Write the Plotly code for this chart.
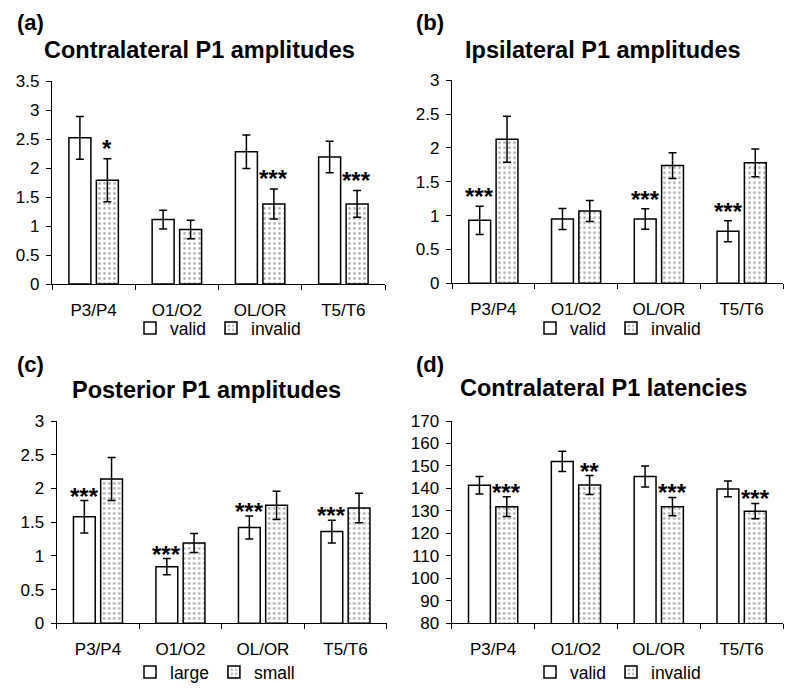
import plotly.graph_objects as go

# ---------------- data ----------------
categories = ["P3/P4", "O1/O2", "OL/OR", "T5/T6"]

a_valid = [2.52, 1.11, 2.28, 2.19]
a_valid_err = [0.37, 0.16, 0.29, 0.27]
a_invalid = [1.79, 0.94, 1.38, 1.38]
a_invalid_err = [0.37, 0.16, 0.26, 0.23]
a_sig = ["*", "", "***", "***"]          # marks on invalid bars

b_valid = [0.93, 0.95, 0.95, 0.77]
b_valid_err = [0.21, 0.155, 0.15, 0.155]
b_invalid = [2.13, 1.07, 1.74, 1.78]
b_invalid_err = [0.34, 0.155, 0.19, 0.205]
b_sig = ["***", "", "***", "***"]        # marks on valid bars

c_large = [1.58, 0.84, 1.42, 1.36]
c_large_err = [0.24, 0.12, 0.17, 0.17]
c_small = [2.14, 1.19, 1.75, 1.71]
c_small_err = [0.32, 0.14, 0.21, 0.22]
c_sig = ["***", "***", "***", "***"]     # marks on large bars

d_valid = [141.4, 152.0, 145.3, 139.8]
d_valid_err = [3.9, 4.5, 4.7, 3.5]
d_invalid = [131.9, 141.5, 131.9, 129.9]
d_invalid_err = [4.4, 4.2, 4.1, 3.4]
d_sig = ["***", "**", "***", "***"]      # marks on invalid bars

titles = ["Contralateral P1 amplitudes", "Ipsilateral P1 amplitudes",
          "Posterior P1 amplitudes", "Contralateral P1 latencies"]
panel_labels = ["(a)", "(b)", "(c)", "(d)"]
series_names = [("valid", "invalid"), ("valid", "invalid"),
                ("large", "small"), ("valid", "invalid")]

# ---------------- styling / layout ----------------
FONT = "Liberation Sans, Arial, Helvetica, sans-serif"
W, H = 800, 690

def px_x(p):
    return p / W

def px_y(p):
    return 1 - p / H

panels = [
    dict(first=a_valid, first_err=a_valid_err, second=a_invalid, second_err=a_invalid_err,
         sig=a_sig, sig_on=1, yrange=[0, 3.5], dtick=0.5,
         xdom=(52, 385), ydom=(284, 81), title_xy=(199, 50), label_xy=(30, 23),
         legend_xy=(130, 328), sig_shift=14),
    dict(first=b_valid, first_err=b_valid_err, second=b_invalid, second_err=b_invalid_err,
         sig=b_sig, sig_on=0, yrange=[0, 3], dtick=0.5,
         xdom=(452, 783), ydom=(283.3, 80.3), title_xy=(603, 50), label_xy=(430, 23),
         legend_xy=(530, 328), sig_shift=13),
    dict(first=c_large, first_err=c_large_err, second=c_small, second_err=c_small_err,
         sig=c_sig, sig_on=0, yrange=[0, 3], dtick=0.5,
         xdom=(56.7, 386.7), ydom=(623.3, 421), title_xy=(207, 390), label_xy=(30, 364),
         legend_xy=(130, 672), sig_shift=8),
    dict(first=d_valid, first_err=d_valid_err, second=d_invalid, second_err=d_invalid_err,
         sig=d_sig, sig_on=1, yrange=[80, 170], dtick=10,
         xdom=(451.7, 783), ydom=(623.3, 421), title_xy=(603, 388), label_xy=(430, 364),
         legend_xy=(530, 672), sig_shift=8),
]

fig = go.Figure()
layout_updates = {}
annotations = []

for i, p in enumerate(panels):
    n = i + 1
    xa = "x" if n == 1 else f"x{n}"
    ya = "y" if n == 1 else f"y{n}"
    lg = "legend" if n == 1 else f"legend{n}"
    name1, name2 = series_names[i]

    fig.add_trace(go.Bar(
        x=categories, y=p["first"], name=name1, xaxis=xa, yaxis=ya, legend=lg,
        marker=dict(color="white", line=dict(color="black", width=1.5)),
        error_y=dict(type="data", array=p["first_err"], color="black", thickness=1.5, width=4),
        offsetgroup="1",
    ))
    fig.add_trace(go.Bar(
        x=categories, y=p["second"], name=name2, xaxis=xa, yaxis=ya, legend=lg,
        marker=dict(color="white", line=dict(color="black", width=1.5),
                    pattern=dict(shape=".", fgcolor="#6a6a6a", bgcolor="white",
                                 size=5, solidity=0.25)),
        error_y=dict(type="data", array=p["second_err"], color="black", thickness=1.5, width=4),
        offsetgroup="2",
    ))

    xkey = "xaxis" if n == 1 else f"xaxis{n}"
    ykey = "yaxis" if n == 1 else f"yaxis{n}"
    layout_updates[xkey] = dict(
        domain=[px_x(p["xdom"][0]), px_x(p["xdom"][1])], anchor=ya,
        type="category", range=[-0.5, 3.5], tickson="boundaries",
        ticks="outside", ticklen=5, tickwidth=1.2, tickcolor="black",
        showline=True, linecolor="black", linewidth=1.2, showgrid=False,
        tickfont=dict(size=17, color="black", family=FONT), ticklabelstandoff=10,
        fixedrange=True, automargin=False,
    )
    layout_updates[ykey] = dict(
        domain=[px_y(p["ydom"][0]), px_y(p["ydom"][1])], anchor=xa,
        range=p["yrange"], dtick=p["dtick"], tick0=p["yrange"][0],
        ticks="outside", ticklen=5, tickwidth=1.2, tickcolor="black",
        showline=True, linecolor="black", linewidth=1.2, showgrid=False, zeroline=False,
        tickfont=dict(size=17, color="black", family=FONT), ticklabelstandoff=3,
        fixedrange=True, automargin=False,
    )
    layout_updates[lg] = dict(
        orientation="h", x=px_x(p["legend_xy"][0]), y=px_y(p["legend_xy"][1]),
        xanchor="left", yanchor="middle", xref="paper", yref="paper",
        font=dict(size=17.5, color="black", family=FONT), bgcolor="rgba(0,0,0,0)",
        itemwidth=30, tracegroupgap=0,
    )

    # title & panel label
    annotations.append(dict(
        text=f"<b>{titles[i]}</b>", x=px_x(p["title_xy"][0]), y=px_y(p["title_xy"][1]),
        xref="paper", yref="paper", xanchor="center", yanchor="middle", showarrow=False,
        font=dict(size=23.5, color="black", family=FONT)))
    annotations.append(dict(
        text=f"<b>{panel_labels[i]}</b>", x=px_x(p["label_xy"][0]), y=px_y(p["label_xy"][1]),
        xref="paper", yref="paper", xanchor="center", yanchor="middle", showarrow=False,
        font=dict(size=22, color="black", family=FONT)))

    # significance marks
    vals = p["first"] if p["sig_on"] == 0 else p["second"]
    errs = p["first_err"] if p["sig_on"] == 0 else p["second_err"]
    xshift = -13.5 if p["sig_on"] == 0 else 13.5
    for j, s in enumerate(p["sig"]):
        if not s:
            continue
        annotations.append(dict(
            text=f"<b>{s}</b>", x=categories[j], y=vals[j] + errs[j],
            xref=xa, yref=ya, xanchor="center", yanchor="middle", showarrow=False,
            xshift=xshift, yshift=p["sig_shift"] - 3.5,
            font=dict(size=24, color="black", family=FONT)))

fig.update_layout(
    width=W, height=H, margin=dict(l=0, r=0, t=0, b=0, autoexpand=False),
    paper_bgcolor="white", plot_bgcolor="white",
    barmode="group", bargap=0.34, bargroupgap=0.2,
    font=dict(family=FONT, color="black"),
    annotations=annotations,
    **layout_updates,
)

fig.write_html(
    "out.html",
    config={"displayModeBar": False},
    post_script="document.body.style.margin='0px';document.body.style.padding='0px';",
)
